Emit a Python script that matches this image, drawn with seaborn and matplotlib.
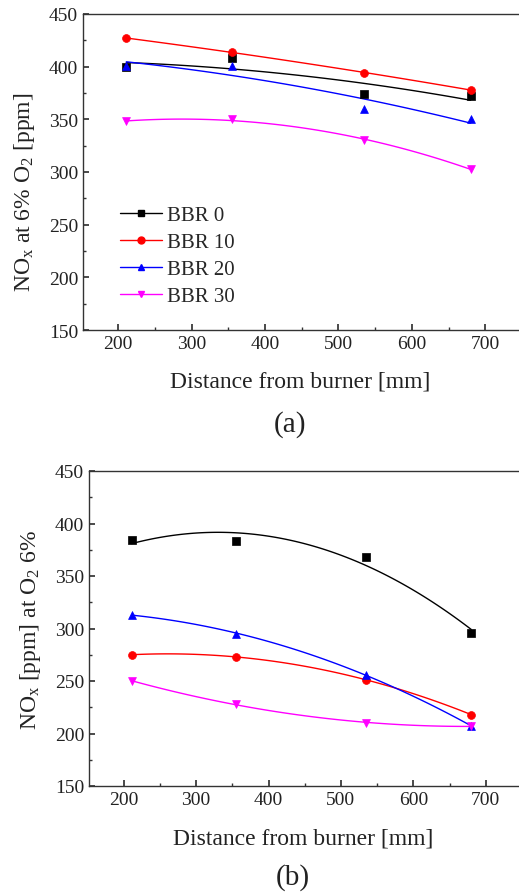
import numpy as np
import pandas as pd
import matplotlib
matplotlib.use("Agg")
import matplotlib.pyplot as plt
from matplotlib.lines import Line2D
from matplotlib.ticker import MultipleLocator
import seaborn as sns

# distance from burner [mm]
distance = [211, 355, 535, 680]
series_names = ["BBR 0", "BBR 10", "BBR 20", "BBR 30"]

# (a) NOx at 6% O2
nox_a_bbr0 = [400, 408, 374, 372]
nox_a_bbr10 = [427, 414, 394, 378]
nox_a_bbr20 = [401, 401, 360, 350]
nox_a_bbr30 = [348, 350, 330, 303]

# (b) NOx at O2 6%
nox_b_bbr0 = [384, 383, 368, 296]
nox_b_bbr10 = [275, 273, 251, 218]
nox_b_bbr20 = [313, 295, 256, 207]
nox_b_bbr30 = [250, 228, 210, 207]

colors = ["#000000", "#ff0000", "#0000ff", "#ff00ff"]
markers = ["s", "o", "^", "v"]

sns.set_theme(style="ticks")
plt.rcParams["font.family"] = ["Liberation Serif", "DejaVu Serif"]
plt.rcParams["mathtext.fontset"] = "custom"
plt.rcParams["mathtext.rm"] = "Liberation Serif"
plt.rcParams["mathtext.it"] = "Liberation Serif:italic"
plt.rcParams["axes.edgecolor"] = "#333333"
plt.rcParams["axes.linewidth"] = 1.0


def draw_panel(ax, data, ylabel, tag, ylab_xy, xlab_y, tag_xy):
    for vals, name, col, mk in zip(data, series_names, colors, markers):
        df = pd.DataFrame({"x": distance, "y": vals})
        # quadratic fit line, like the smoothed curves of the original
        sns.regplot(data=df, x="x", y="y", order=2, ci=None, scatter=False,
                    truncate=True, ax=ax, line_kws={"color": col, "lw": 1.0})
        sns.scatterplot(data=df, x="x", y="y", marker=mk, color=col, s=32,
                        edgecolor=col, linewidth=0.5, ax=ax, zorder=3)
    ax.set_xlim(152, 746)
    ax.set_ylim(150, 450)
    ax.xaxis.set_major_locator(MultipleLocator(100))
    ax.xaxis.set_minor_locator(MultipleLocator(50))
    ax.yaxis.set_major_locator(MultipleLocator(50))
    ax.yaxis.set_minor_locator(MultipleLocator(25))
    ax.tick_params(which="both", direction="in", colors="#333333",
                   labelcolor="#222222", labelsize=14, top=False, right=False)
    ax.tick_params(which="major", length=4.5)
    ax.tick_params(which="minor", length=2.5)
    ax.spines["right"].set_visible(False)
    ax.set_xlabel("Distance from burner [mm]", fontsize=17, color="#222222")
    ax.set_ylabel(ylabel, fontsize=17, color="#222222")
    ax.xaxis.set_label_coords(0.498, xlab_y)
    ax.yaxis.set_label_coords(*ylab_xy)
    ax.xaxis.label.set_va("center")
    ax.yaxis.label.set_va("center")
    ax.text(tag_xy[0], tag_xy[1], tag, transform=ax.transAxes, ha="center",
            va="center", fontsize=21, color="#222222")


fig = plt.figure(figsize=(5.19, 8.95), dpi=100)
ax1 = fig.add_axes([83 / 519, 1 - 331 / 895, 436 / 519, 316 / 895])
ax2 = fig.add_axes([89 / 519, 1 - 787 / 895, 430 / 519, 315 / 895])

draw_panel(ax1, [nox_a_bbr0, nox_a_bbr10, nox_a_bbr20, nox_a_bbr30],
           r"NO$_\mathrm{x}$ at 6% O$_2$ [ppm]", "(a)",
           (-0.135, 0.44), -0.161, (0.475, -0.297))
draw_panel(ax2, [nox_b_bbr0, nox_b_bbr10, nox_b_bbr20, nox_b_bbr30],
           r"NO$_\mathrm{x}$ [ppm] at O$_2$ 6%", "(b)",
           (-0.137, 0.498), -0.165, (0.474, -0.286))

handles = [Line2D([], [], color=c, marker=m, markersize=5, lw=1.0)
           for c, m in zip(colors, markers)]
ax1.legend(handles, series_names, loc="center left", bbox_to_anchor=(0.042, 0.235),
           frameon=False, fontsize=15, handlelength=2.0, handletextpad=0.25,
           labelspacing=0.35)

fig.savefig("out.png", dpi=100)
